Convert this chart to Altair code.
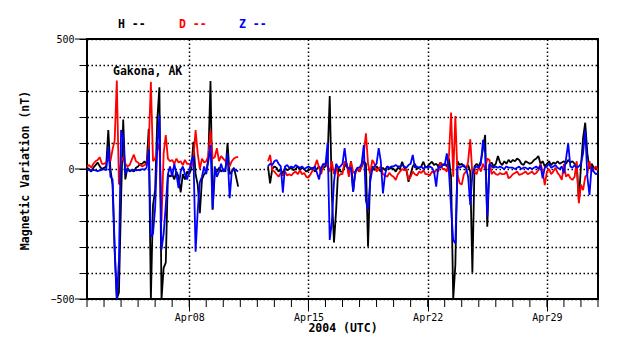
import altair as alt
import pandas as pd

# ---- data: 3-hourly samples, one row per UTC day starting 2004-04-02 ----
START = "2004-04-02"
N_DAYS = 30

H_days = [
    [5, 0, -10, 5, 15, 25, 10, 0],                 # Apr 02
    [5, 10, 150, 0, -60, -320, -500, -475],        # Apr 03
    [-120, 190, -40, 5, -10, -5, -10, 5],          # Apr 04
    [10, 20, 20, 30, 15, 155, -500, -140],         # Apr 05
    [-80, 188, 314, -500, -380, -360, -20, -30],   # Apr 06
    [-20, -40, -10, -30, -90, -20, -40, -10],      # Apr 07
    [-20, 0, 105, -20, -60, -170, -40, -20],       # Apr 08
    [-10, 40, 338, -157, -20, -10, 5, -10],        # Apr 09
    [0, -10, 100, -20, -10, 5, -30, -68],          # Apr 10
    [None] * 8,                                    # Apr 11
    [None] * 5 + [10, -55, 0],                     # Apr 12
    [10, 5, -10, 0, -20, 5, -5, 0],                # Apr 13
    [5, -5, 0, 10, -5, 5, 0, -10],                 # Apr 14
    [-5, 0, 5, -10, 0, 10, -5, 5],                 # Apr 15
    [10, 40, 281, -100, -283, -160, 5, -10],       # Apr 16
    [-10, 10, 20, -20, 30, -87, -10, 0],           # Apr 17
    [-10, 10, 30, 20, -299, -30, 10, -5],          # Apr 18
    [10, 0, -10, 5, -5, 10, 0, 5],                 # Apr 19
    [0, -10, 5, 0, 28, 5, -5, -49],                # Apr 20
    [-20, 10, 20, 0, 5, 10, 28, 5],                # Apr 21
    [10, 20, 28, 15, 20, 10, 25, 15],              # Apr 22
    [20, 10, 40, -30, -500, -369, 30, 15],         # Apr 23
    [20, 10, 5, 15, -10, -399, 10, 20],            # Apr 24
    [10, 30, 80, 131, -222, 15, 25, 10],           # Apr 25
    [20, 50, 25, 15, 30, 20, 35, 25],              # Apr 26
    [35, 30, 40, 35, 20, 15, 30, 25],              # Apr 27
    [20, 25, 35, 40, 50, 20, 30, 10],              # Apr 28
    [20, 30, 15, 25, 20, 30, 20, 25],              # Apr 29
    [30, 20, 35, 25, 30, 20, 15, -119],            # Apr 30
    [10, 120, 178, 60, 0, 20, 5, 0],               # May 01
    [0],                                           # May 02 00:00
]

D_days = [
    [10, 15, 5, 20, 30, 35, 45, 20],
    [20, 25, 35, 30, 75, 110, 340, -60],
    [30, 45, 20, 10, 15, 35, 55, 30],
    [25, 15, 10, 15, 20, 85, 335, 30],
    [40, 70, 100, -200, 60, 130, 40, 30],
    [35, 20, 40, 25, 30, 15, 35, 20],
    [20, 10, 40, 150, 60, 0, 40, 25],
    [30, 50, 150, 40, 45, 80, 30, 50],
    [40, 30, 20, 10, 30, 40, 45, 47],
    [None] * 8,
    [None] * 5 + [30, 54, -5],
    [-10, -20, -30, -15, -25, -10, -25, -20],
    [-25, -15, -10, -20, -5, -20, -15, -30],
    [-33, -20, -5, 10, 35, 5, -20, 15],
    [20, 10, -10, 30, -20, 10, -30, -20],
    [-20, 30, 20, -30, 28, -10, -20, 5],
    [-10, 10, 60, 137, 20, -20, 35, 20],
    [-10, 0, 10, -20, -25, -30, -15, -25],
    [-30, -42, -20, -10, 0, -5, 0, -42],
    [-30, -10, -20, -25, -10, -15, -5, -20],
    [-20, -25, -10, -15, -5, -10, 25, 0],
    [0, -10, 50, 217, -30, 204, -20, -55],
    [-60, -20, -10, 30, 114, -20, -10, -20],
    [10, -10, 20, 0, 40, 35, -20, -10],
    [-20, -23, -15, -20, -20, -10, -36, -30],
    [-20, -15, -10, -23, -20, -15, -10, -20],
    [-15, -10, -20, -15, -5, 20, -10, -62],
    [-10, 0, -20, -10, 5, -15, -25, -42],
    [20, -30, -20, -35, -42, -30, 30, -132],
    [-60, -81, -30, -20, 30, -10, 0, 10],
    [-5],
]

Z_days = [
    [0, -5, -5, -3, -5, -8, -5, -3],
    [0, -5, 85, -30, -40, -300, -500, -350],
    [150, 120, -20, 0, -5, -5, -3, -5],
    [-3, -5, 0, -3, 5, 75, -260, -250],
    [-150, 80, 208, -310, -250, -140, -20, 10],
    [-30, 20, -20, -74, -10, 10, -20, -40],
    [-10, 30, 50, -318, -160, -50, -30, 10],
    [-20, 30, 92, -155, 10, -30, -10, 20],
    [-10, 0, 60, -112, -10, 0, -5, -10],
    [None] * 8,
    [None] * 5 + [10, 20, 15],
    [30, 35, 20, 10, -91, 10, 15, 5],
    [10, 5, 15, 10, 5, 10, 0, 5],
    [10, 5, 0, 10, -15, -40, 5, 20],
    [15, 101, -273, -203, -50, 20, 5, 10],
    [20, 80, 10, 0, 5, -87, -10, 5],
    [5, 20, 92, -122, -158, -50, 0, 10],
    [20, 80, 30, -94, -20, 10, 5, 10],
    [10, 15, 10, 10, 15, 10, 5, 15],
    [20, 54, 5, 10, 5, 10, 0, 10],
    [5, 10, 5, -10, -68, 10, 5, 15],
    [15, 60, -10, -151, -273, -286, 10, 5],
    [10, 15, 5, -30, -138, -20, 5, 10],
    [5, 20, 112, 60, -183, 20, 10, 5],
    [10, 5, 10, 5, 0, 10, 5, 5],
    [5, 0, 5, 9, 0, 5, 5, 0],
    [5, 0, 5, 10, 0, 15, -36, 5],
    [10, 20, 5, 10, 15, 5, 0, 10],
    [-17, 40, 99, 10, 5, 15, 5, 10],
    [20, 60, 150, -30, -100, 10, -10, -20],
    [-15],
]

Y_TICKS = list(range(-500, 501, 100))
Y_LABELED = [-500, 0, 500]
WEEK_LABELS = ["2004-04-08", "2004-04-15", "2004-04-22", "2004-04-29"]
GAP_INDEX = 9 * 8               # samples after the data gap get a new segment

times = pd.date_range(START, periods=N_DAYS * 8 + 1, freq="3h", tz="UTC")
tstr = [t.strftime("%Y-%m-%dT%H:%M:%SZ") for t in times]


def series_frame(days):
    vals = [v for d in days for v in d]
    df = pd.DataFrame({"t": tstr, "v": vals,
                       "seg": [int(i >= GAP_INDEX) for i in range(len(vals))]})
    return df.dropna()


FONT = "DejaVu Sans Mono"
T0 = pd.Timestamp("2004-04-02", tz="UTC").value // 10**6
T1 = pd.Timestamp("2004-05-02", tz="UTC").value // 10**6
WEEK_MS = [pd.Timestamp(w, tz="UTC").value // 10**6 for w in WEEK_LABELS]

x_scale = alt.Scale(type="utc", domain=[T0, T1])
y_scale = alt.Scale(domain=[-500, 500], nice=False, zero=False)

GRID = dict(grid=True, gridColor="black", gridDash=[1.5, 2.5], gridWidth=1.5, gridOpacity=1)

x_axis = alt.Axis(
    values=WEEK_MS,
    labelExpr="utcFormat(datum.value, '%b%d')",
    tickSize=12, tickColor="black", tickWidth=1,
    labelFont=FONT, labelFontSize=10, labelColor="black", labelPadding=1,
    labelFlush=False, labelOverlap=False,
    domain=False,
    title="2004 (UTC)", titleFont=FONT, titleFontSize=11.5, titleFontWeight="bold",
    titleColor="black", titleY=29, titleBaseline="middle",
    **GRID,
)
y_axis = alt.Axis(
    values=Y_TICKS,
    labelExpr="datum.value % 500 == 0 ? datum.label : ''",
    tickSize=8, tickColor="black", tickWidth=1,
    labelFont=FONT, labelFontSize=10, labelColor="black", labelPadding=5,
    labelOverlap=False, labelFlush=False,
    domain=False,
    title="Magnetic Variation (nT)", titleFont=FONT, titleFontSize=11.5,
    titleFontWeight="bold", titleColor="black",
    titleX=-62, titleY=131, titleAngle=270, titleAlign="center", titleBaseline="middle",
    **GRID,
)


def line_layer(days, color):
    return alt.Chart(series_frame(days)).mark_line(
        color=color, strokeWidth=1.8, strokeJoin="bevel", clip=True
    ).encode(
        x=alt.X("t:T", scale=x_scale, axis=x_axis),
        y=alt.Y("v:Q", scale=y_scale, axis=y_axis),
        detail="seg:N",
    )


h_layer = line_layer(H_days, "#000000")
d_layer = line_layer(D_days, "#ff0000")
z_layer = line_layer(Z_days, "#0000ff")

# daily minor ticks below the x axis
day_df = pd.DataFrame({"t": [t.strftime("%Y-%m-%dT%H:%M:%SZ")
                             for t in pd.date_range(START, periods=N_DAYS + 1, freq="D", tz="UTC")]})
xminor = alt.Chart(day_df).mark_rule(color="black", strokeWidth=1).encode(
    x=alt.X("t:T", scale=x_scale, axis=x_axis), y=alt.value(260), y2=alt.value(268)
)

# longer ticks at labelled y values
ymajor = alt.Chart(pd.DataFrame({"v": Y_LABELED})).mark_rule(color="black", strokeWidth=1).encode(
    y=alt.Y("v:Q", scale=y_scale, axis=y_axis), x=alt.value(-12), x2=alt.value(0)
)

dummy = pd.DataFrame({"a": [0]})


def label(text, x, y, color, weight="bold"):
    return alt.Chart(dummy).mark_text(
        font=FONT, fontSize=11.5, fontWeight=weight, align="left", baseline="middle", color=color
    ).encode(text=alt.value(text), x=alt.value(x), y=alt.value(y))


leg_h = label("H --", 31, -14.5, "#000000")
leg_d = label("D --", 92, -14.5, "#ff0000")
leg_z = label("Z --", 152, -14.5, "#0000ff")
site = label("Gakona, AK", 26, 33, "#000000")

chart = alt.layer(
    h_layer, d_layer, z_layer, xminor, ymajor, leg_h, leg_d, leg_z, site
).properties(
    width=511, height=260,
    autosize=alt.AutoSizeParams(type="none"),
    padding={"left": 79, "top": 31, "right": 32, "bottom": 44},
    background="white",
).configure_view(
    stroke="black", strokeWidth=2
)

chart.save("out.html", embed_options={"renderer": "svg", "actions": False})
